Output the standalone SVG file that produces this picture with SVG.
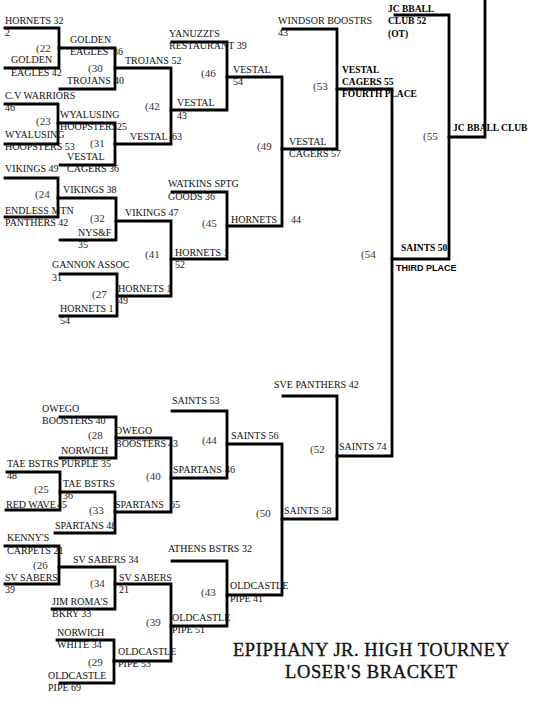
<svg xmlns="http://www.w3.org/2000/svg" width="540" height="720" viewBox="0 0 540 720" xml:space="preserve">
<style>
.ln{fill:none;stroke:#000;stroke-width:2.8;stroke-linecap:square;stroke-linejoin:miter}
text{font-family:"Liberation Serif","Times New Roman",serif;font-size:10px;fill:#111}
.n{font-size:11px;fill:#333}
.b{font-weight:bold;font-size:9.5px;fill:#000}
.s{font-family:"Liberation Sans",Arial,sans-serif;font-weight:bold;font-size:9px;fill:#000}
.title{font-size:18.5px;fill:#111;stroke:#111;stroke-width:0.35;text-anchor:middle}
</style>
<rect width="540" height="720" fill="#fff"/>
<g id="connectors">
<path class="ln" d="M5 28 H59 V68 H5"/>
<path class="ln" d="M59 48 H115 V89 H60"/>
<path class="ln" d="M5 104 H58 V144 H5"/>
<path class="ln" d="M58 123 H115 V165 H60"/>
<path class="ln" d="M115 68 H171 V144 H115"/>
<path class="ln" d="M5 178 H58 V217 H5"/>
<path class="ln" d="M58 198 H116 V240 H60"/>
<path class="ln" d="M116 221 H171 V296 H117"/>
<path class="ln" d="M60 274 H117 V316 H60"/>
<path class="ln" d="M172 42 H227 V110 H171"/>
<path class="ln" d="M172 192 H227 V259 H171"/>
<path class="ln" d="M227 77 H282 V226 H227"/>
<path class="ln" d="M283 29 H337 V149 H282"/>
<path class="ln" d="M337 89 H392 V456 H337"/>
<path class="ln" d="M395 15 H449 V259 H392"/>
<path class="ln" d="M449 137 H485 V-2"/>
<path class="ln" d="M60 417 H116 V458 H60"/>
<path class="ln" d="M7 472 H60 V510 H6"/>
<path class="ln" d="M60 492 H115 V533 H55"/>
<path class="ln" d="M116 438 H171 V512 H115"/>
<path class="ln" d="M172 411 H227 V478 H171"/>
<path class="ln" d="M5 546 H59 V584 H5"/>
<path class="ln" d="M59 567 H115 V609 H52"/>
<path class="ln" d="M115 584 H171 V661 H114"/>
<path class="ln" d="M57 640 H114 V683 H60"/>
<path class="ln" d="M172 561 H227 V626 H171"/>
<path class="ln" d="M227 444 H282 V595 H227"/>
<path class="ln" d="M283 396 H337 V519 H282"/>
</g>
<g id="m22">
<text x="5" y="24">HORNETS  32</text>
<text x="5" y="36">2</text>
<text class="n" x="36" y="52">(22</text>
<text x="11" y="63">GOLDEN</text>
<text x="11" y="76">EAGLES  42</text>
</g>
<g id="m30">
<text x="70" y="43">GOLDEN</text>
<text x="70" y="55">EAGLES</text>
<text x="113" y="55">36</text>
<text class="n" x="88" y="72">(30</text>
<text x="67" y="84">TROJANS</text>
<text x="114" y="84">40</text>
</g>
<g id="m23">
<text x="5" y="99">C.V WARRIORS</text>
<text x="5" y="111">46</text>
<text class="n" x="36" y="125">(23</text>
<text x="5" y="138">WYALUSING</text>
<text x="5" y="150">HOOPSTERS  53</text>
</g>
<g id="m31">
<text x="60" y="118">WYALUSING</text>
<text x="60" y="130">HOOPSTERS</text>
<text x="117" y="130">25</text>
<text class="n" x="90" y="147">(31</text>
<text x="67" y="160">VESTAL</text>
<text x="67" y="172">CAGERS  36</text>
</g>
<g id="m42">
<text x="125" y="64">TROJANS 52</text>
<text class="n" x="145" y="110">(42</text>
<text x="130" y="140">VESTAL</text>
<text x="172" y="140">63</text>
</g>
<g id="m24">
<text x="5" y="172">VIKINGS  49</text>
<text class="n" x="35" y="198">(24</text>
<text x="5" y="214">ENDLESS MTN</text>
<text x="5" y="226">PANTHERS  42</text>
</g>
<g id="m32">
<text x="63" y="193">VIKINGS  38</text>
<text class="n" x="90" y="222">(32</text>
<text x="78" y="236">NYS&amp;F</text>
<text x="78" y="248">35</text>
</g>
<g id="m41">
<text x="125" y="216">VIKINGS  47</text>
<text class="n" x="145" y="258">(41</text>
<text x="118" y="292">HORNETS 1</text>
<text x="118" y="304">49</text>
</g>
<g id="m27">
<text x="52" y="268">GANNON ASSOC</text>
<text x="52" y="281">31</text>
<text class="n" x="92" y="298">(27</text>
<text x="60" y="312">HORNETS 1</text>
<text x="60" y="324">54</text>
</g>
<g id="m46">
<text x="169" y="37">YANUZZI'S</text>
<text x="169" y="49">RESTAURANT  39</text>
<text class="n" x="201" y="77">(46</text>
<text x="177" y="106">VESTAL</text>
<text x="177" y="119">43</text>
</g>
<g id="m45">
<text x="168" y="187">WATKINS SPTG</text>
<text x="168" y="200">GOODS 36</text>
<text class="n" x="202" y="227">(45</text>
<text x="175" y="256">HORNETS 1</text>
<text x="175" y="268">52</text>
</g>
<g id="m49">
<text x="233" y="73">VESTAL</text>
<text x="233" y="85">54</text>
<text class="n" x="257" y="150">(49</text>
<text x="231" y="223">HORNETS 1</text>
<text x="291" y="223">44</text>
</g>
<g id="m53">
<text x="278" y="24">WINDSOR BOOSTRS</text>
<text x="278" y="36">43</text>
<text class="n" x="313" y="90">(53</text>
<text x="289" y="145">VESTAL</text>
<text x="289" y="157">CAGERS  57</text>
</g>
<g id="m54">
<text class="b" x="342" y="73">VESTAL</text>
<text class="b" x="342" y="85">CAGERS 55</text>
<text class="b" x="342" y="97">FOURTH PLACE</text>
<text class="n" x="361" y="258">(54</text>
<text x="339" y="450">SAINTS  74</text>
</g>
<g id="m55">
<text class="b" x="388" y="12">JC BBALL</text>
<text class="b" x="388" y="24">CLUB 52</text>
<text class="b" x="388" y="37">(OT)</text>
<text class="n" x="423" y="140">(55</text>
<text class="b" x="401" y="251">SAINTS  50</text>
<text class="s" x="396" y="271">THIRD PLACE</text>
</g>
<g id="champion">
<text class="b" x="453" y="131">JC BBALL CLUB</text>
</g>
<g id="m28">
<text x="42" y="412">OWEGO</text>
<text x="42" y="424">BOOSTERS  40</text>
<text class="n" x="88" y="439">(28</text>
<text x="61" y="454">NORWICH</text>
</g>
<g id="m25">
<text x="7" y="467">TAE BSTRS PURPLE 35</text>
<text x="7" y="479">48</text>
<text class="n" x="34" y="493">(25</text>
<text x="6" y="508">RED WAVE</text>
<text x="57" y="508">45</text>
</g>
<g id="m33">
<text x="63" y="487">TAE BSTRS</text>
<text x="63" y="499">36</text>
<text class="n" x="89" y="514">(33</text>
<text x="55" y="529">SPARTANS  48</text>
</g>
<g id="m40">
<text x="115" y="434">OWEGO</text>
<text x="115" y="447">BOOSTERS</text>
<text x="168" y="447">43</text>
<text class="n" x="146" y="480">(40</text>
<text x="115" y="508">SPARTANS</text>
<text x="170" y="508">65</text>
</g>
<g id="m44">
<text x="172" y="404">SAINTS 53</text>
<text class="n" x="202" y="444">(44</text>
<text x="173" y="473">SPARTANS</text>
<text x="225" y="473">46</text>
</g>
<g id="m26">
<text x="7" y="541">KENNY'S</text>
<text x="7" y="554">CARPETS  21</text>
<text class="n" x="33" y="569">(26</text>
<text x="5" y="581">SV SABERS</text>
<text x="5" y="593">39</text>
</g>
<g id="m34">
<text x="73" y="563">SV SABERS 34</text>
<text class="n" x="90" y="587">(34</text>
<text x="52" y="605">JIM ROMA'S</text>
<text x="52" y="617">BKRY 33</text>
</g>
<g id="m39">
<text x="119" y="581">SV SABERS</text>
<text x="119" y="593">21</text>
<text class="n" x="146" y="626">(39</text>
<text x="118" y="655">OLDCASTLE</text>
<text x="118" y="667">PIPE  53</text>
</g>
<g id="m29">
<text x="57" y="636">NORWICH</text>
<text x="57" y="648">WHITE  34</text>
<text class="n" x="88" y="666">(29</text>
<text x="48" y="679">OLDCASTLE</text>
<text x="48" y="691">PIPE 69</text>
</g>
<g id="m43">
<text x="168" y="552">ATHENS BSTRS 32</text>
<text class="n" x="201" y="596">(43</text>
<text x="172" y="621">OLDCASTLE</text>
<text x="172" y="633">PIPE  51</text>
</g>
<g id="m50">
<text x="231" y="439">SAINTS 56</text>
<text class="n" x="256" y="517">(50</text>
<text x="230" y="589">OLDCASTLE</text>
<text x="230" y="602">PIPE 41</text>
</g>
<g id="m52">
<text x="274" y="388">SVE PANTHERS  42</text>
<text class="n" x="310" y="453">(52</text>
<text x="284" y="514">SAINTS  58</text>
</g>
<g id="title">
<text class="title" x="371" y="656" textLength="276" lengthAdjust="spacing">EPIPHANY JR. HIGH TOURNEY</text>
<text class="title" x="371" y="678" textLength="172" lengthAdjust="spacing">LOSER'S BRACKET</text>
</g>
</svg>
